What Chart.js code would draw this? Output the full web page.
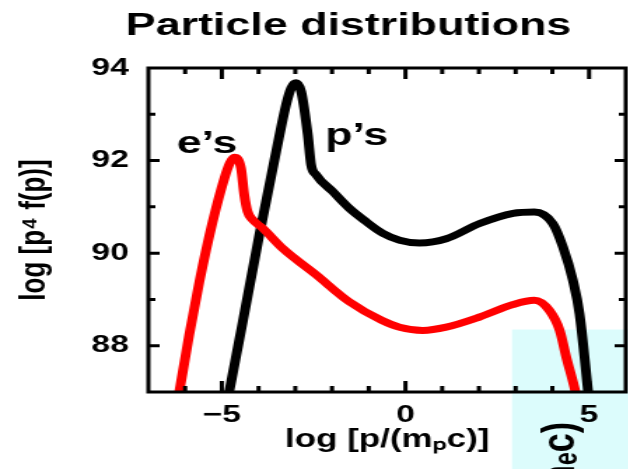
<!DOCTYPE html>
<html>
<head>
<meta charset="utf-8">
<title>Particle distributions</title>
<script src="https://cdn.jsdelivr.net/npm/chart.js@4.4.1/dist/chart.umd.min.js"></script>
<style>
  html,body{margin:0;padding:0;background:#fff;overflow:hidden}
  #wrap{width:628px;height:469px;overflow:hidden}
  /* source figure is stretched ~1.4x sideways: draw narrow, then widen */
  #chart{display:block;transform:scaleX(1.4);transform-origin:0 0}
</style>
</head>
<body>
<div id="wrap"><canvas id="chart" width="449" height="469"></canvas></div>
<script>
// electrons (red)
const eX = [-6.22, -6.16, -5.89, -5.61, -5.25, -4.93, -4.78, -4.66, -4.48, -4.39, -4.30, -4.16, -3.89, -3.34, -2.43, -1.53, -0.65, -0.16, 0.47, 1.11, 2.02, 2.93, 3.51, 3.92, 4.20, 4.38, 4.63, 4.68];
const eY = [86.75, 87.0, 88.23, 89.39, 90.68, 91.62, 91.95, 92.07, 91.84, 91.26, 90.90, 90.72, 90.54, 90.10, 89.53, 88.95, 88.55, 88.40, 88.33, 88.40, 88.62, 88.89, 88.98, 88.76, 88.33, 87.75, 87.0, 86.8];
// protons (black)
const pX = [-4.86, -4.80, -4.43, -3.98, -3.52, -3.25, -3.11, -2.98, -2.84, -2.66, -2.57, -2.43, -1.98, -1.53, -1.07, -0.62, -0.16, 0.38, 1.11, 2.02, 2.93, 3.51, 4.01, 4.29, 4.56, 4.74, 4.97, 5.0];
const pY = [86.75, 87.0, 88.52, 90.39, 92.20, 93.21, 93.57, 93.68, 93.49, 92.56, 91.91, 91.69, 91.33, 90.97, 90.68, 90.43, 90.28, 90.22, 90.31, 90.64, 90.86, 90.89, 90.64, 90.13, 89.41, 88.69, 87.03, 86.8];

const xTickLabels = [-5, 0, 5];
const yTickLabels = [88, 90, 92, 94];
const curveNames = ['e’s', 'p’s'];
const nameX = [-5.4, -1.33];
const nameY = [92.16, 92.33];

const FONT = '"Liberation Sans", Arial, sans-serif';
// light cyan patch overlapping the lower right corner (from the slide)
const patchFrom = {x: 2.9, y: 88.35};

const framePlugin = {
  id: 'frame',
  beforeDraw(chart){
    const {ctx, scales:{x, y}} = chart;
    const l = x.getPixelForValue(patchFrom.x), t = y.getPixelForValue(patchFrom.y);
    ctx.save();
    ctx.fillStyle = '#dcfcfc';
    ctx.fillRect(l, t, chart.width - l, chart.height - t);
    ctx.restore();
  },
  afterDraw(chart){
    const {ctx, chartArea:a, scales:{x, y}} = chart;
    ctx.save();
    ctx.strokeStyle = '#000';
    ctx.lineWidth = 3;
    ctx.strokeRect(a.left, a.top, a.right - a.left, a.bottom - a.top);
    // inward ticks on all four sides
    ctx.beginPath();
    x.ticks.forEach(t=>{
      const px = x.getPixelForValue(t.value);
      if (px <= a.left + 1 || px >= a.right - 1) return;
      const len = t.value % 5 === 0 ? 11 : 6;
      ctx.moveTo(px, a.bottom); ctx.lineTo(px, a.bottom - len);
      ctx.moveTo(px, a.top); ctx.lineTo(px, a.top + len);
    });
    y.ticks.forEach(t=>{
      const py = y.getPixelForValue(t.value);
      if (py <= a.top + 1 || py >= a.bottom - 1) return;
      const len = t.value % 2 === 0 ? 8 : 5;
      ctx.moveTo(a.left, py); ctx.lineTo(a.left + len, py);
      ctx.moveTo(a.right, py); ctx.lineTo(a.right - len, py);
    });
    ctx.stroke();

    // curve names
    ctx.fillStyle = '#000';
    ctx.font = 'bold 32px ' + FONT;
    ctx.textAlign = 'center';
    ctx.textBaseline = 'alphabetic';
    curveNames.forEach((s, i)=> ctx.fillText(s, x.getPixelForValue(nameX[i]), y.getPixelForValue(nameY[i])));

    // cut-off label of the neighbouring panel, rotated
    ctx.translate(a.right - 37, a.bottom + 30);
    ctx.rotate(-Math.PI / 2);
    ctx.font = 'bold 34px ' + FONT;
    ctx.textAlign = 'right';
    ctx.fillText('(mₑc)', 0, 0);
    ctx.restore();
  }
};

const tickFont = {size: 24, weight: 'bold', family: FONT};

new Chart(document.getElementById('chart'), {
  type: 'line',
  data: {
    datasets: [
      {label: 'e’s', data: eX.map((v, i)=>({x: v, y: eY[i]})), borderColor: '#ff0000', borderWidth: 7,
       pointRadius: 0, cubicInterpolationMode: 'monotone', clip: 0},
      {label: 'p’s', data: pX.map((v, i)=>({x: v, y: pY[i]})), borderColor: '#000000', borderWidth: 7,
       pointRadius: 0, cubicInterpolationMode: 'monotone', clip: 0}
    ]
  },
  plugins: [framePlugin],
  options: {
    responsive: false,
    animation: false,
    devicePixelRatio: 1,
    layout: {padding: {left: 51, right: 2, top: 0, bottom: 0}},
    plugins: {
      legend: {display: false},
      tooltip: {enabled: false},
      title: {display: true, text: 'Particle distributions', color: '#000',
              font: {size: 32, weight: 'bold', family: FONT}, padding: {top: 7, bottom: 22.6}}
    },
    scales: {
      x: {
        type: 'linear', min: -7, max: 6,
        grid: {display: false}, border: {display: false},
        ticks: {stepSize: 1, autoSkip: false, maxRotation: 0, color: '#000', font: tickFont, padding: 1,
                callback: v => xTickLabels.includes(v) ? (v < 0 ? '\u2212' + Math.abs(v) : String(v)) : ''},
        title: {display: true, text: 'log [p/(mₚc)]', color: '#000',
                font: {size: 25, weight: 'bold', family: FONT}, padding: {top: 0, bottom: 14}},
        afterFit: s => { s.height = 77; s.paddingLeft = 0; s.paddingRight = 0; }
      },
      y: {
        type: 'linear', min: 87, max: 94,
        grid: {display: false}, border: {display: false},
        ticks: {stepSize: 1, autoSkip: false, color: '#000', font: tickFont, padding: 6,
                callback: v => yTickLabels.includes(v) ? String(v) : ''},
        title: {display: true, text: 'log [p⁴ f(p)]', color: '#000',
                font: {size: 26, weight: 'bold', family: FONT}, padding: {top: -42, bottom: 0}},
        afterFit: s => { s.width = 55; }
      }
    }
  }
});
</script>
</body>
</html>
